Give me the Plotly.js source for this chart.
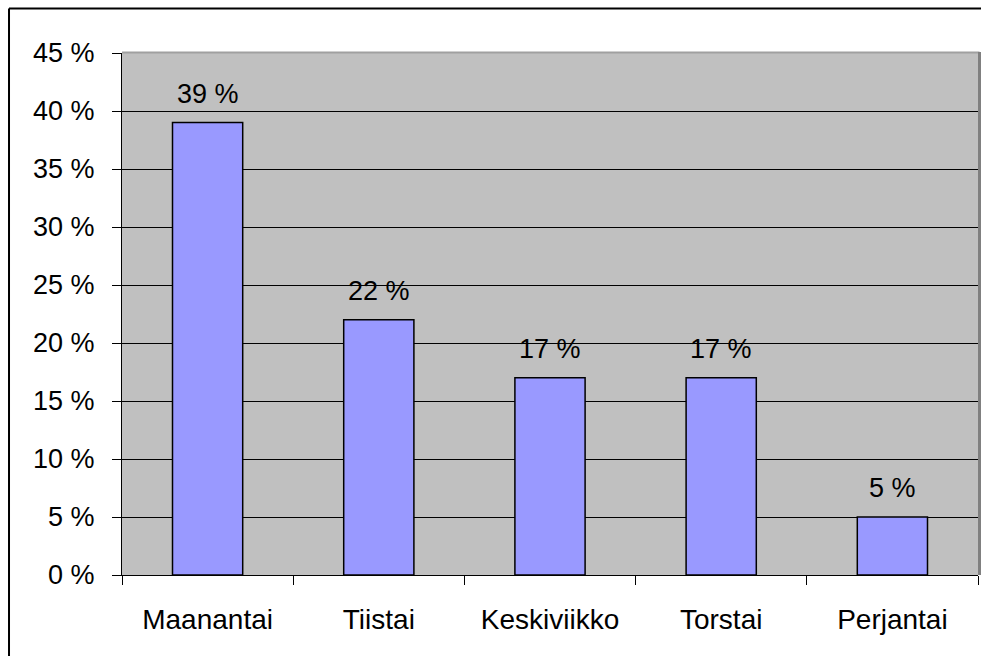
<!DOCTYPE html>
<html>
<head>
<meta charset="utf-8">
<script src="https://cdn.plot.ly/plotly-3.0.1.min.js"></script>
<style>html,body{margin:0;padding:0;background:#fff;overflow:hidden;}#chart{width:981px;height:656px;}</style>
</head>
<body>
<div id="chart"></div>
<script>
var categories = ["Maanantai", "Tiistai", "Keskiviikko", "Torstai", "Perjantai"];
var values = [39, 22, 17, 17, 5];
var valueLabels = ["39 %", "22 %", "17 %", "17 %", "5 %"];
var yTickVals = [0, 5, 10, 15, 20, 25, 30, 35, 40, 45];
var yTickText = ["0 %", "5 %", "10 %", "15 %", "20 %", "25 %", "30 %", "35 %", "40 %", "45 %"];

var FONT = "Liberation Sans, Arial, sans-serif";

var trace = {
  type: "bar",
  x: categories,
  y: values,
  marker: {color: "#9999FF", line: {color: "#000000", width: 1.5}},
  hoverinfo: "none"
};

var annotations = categories.map(function (c, i) {
  return {
    x: c, y: values[i], xref: "x", yref: "y",
    text: valueLabels[i], showarrow: false,
    yanchor: "bottom", yshift: 12,
    font: {family: FONT, size: 27, color: "#000"}
  };
});

var layout = {
  width: 981, height: 656,
  margin: {l: 122, r: 3, t: 53, b: 81, pad: 0},
  paper_bgcolor: "#ffffff",
  plot_bgcolor: "#C0C0C0",
  bargap: 0.59,
  showlegend: false,
  font: {family: FONT, size: 28, color: "#000"},
  xaxis: {
    type: "category",
    showgrid: false,
    showline: true, linecolor: "#000", linewidth: 1,
    ticks: "outside", ticklen: 9, tickcolor: "#000", tickwidth: 1,
    tickson: "boundaries",
    ticklabelstandoff: 19,
    tickfont: {family: FONT, size: 28, color: "#000"}
  },
  yaxis: {
    range: [0, 45],
    tickvals: yTickVals, ticktext: yTickText,
    showgrid: true, gridcolor: "#000", gridwidth: 1,
    zeroline: false,
    showline: true, linecolor: "#000", linewidth: 1,
    ticks: "outside", ticklen: 9, tickcolor: "#000", tickwidth: 1,
    ticklabelstandoff: 12,
    tickfont: {family: FONT, size: 27, color: "#000"}
  },
  annotations: annotations,
  shapes: [
    {type: "line", xref: "paper", yref: "paper", x0: 0, x1: 1.0018, y0: 1.001, y1: 1.001, line: {color: "#A0A0A0", width: 2}, layer: "above"},
    {type: "line", xref: "paper", yref: "paper", x0: 1.00175, x1: 1.00175, y0: 0, y1: 1.002, line: {color: "#808080", width: 3}, layer: "above"},
    {type: "line", xref: "paper", yref: "paper", x0: -0.1320, x1: 1.01, y0: 1.0853, y1: 1.0853, line: {color: "#000", width: 2}, layer: "above"},
    {type: "line", xref: "paper", yref: "paper", x0: -0.1320, x1: -0.1320, y0: -0.2, y1: 1.0853, line: {color: "#000", width: 2}, layer: "above"}
  ]
};

Plotly.newPlot("chart", [trace], layout, {staticPlot: true, displayModeBar: false});
</script>
</body>
</html>
